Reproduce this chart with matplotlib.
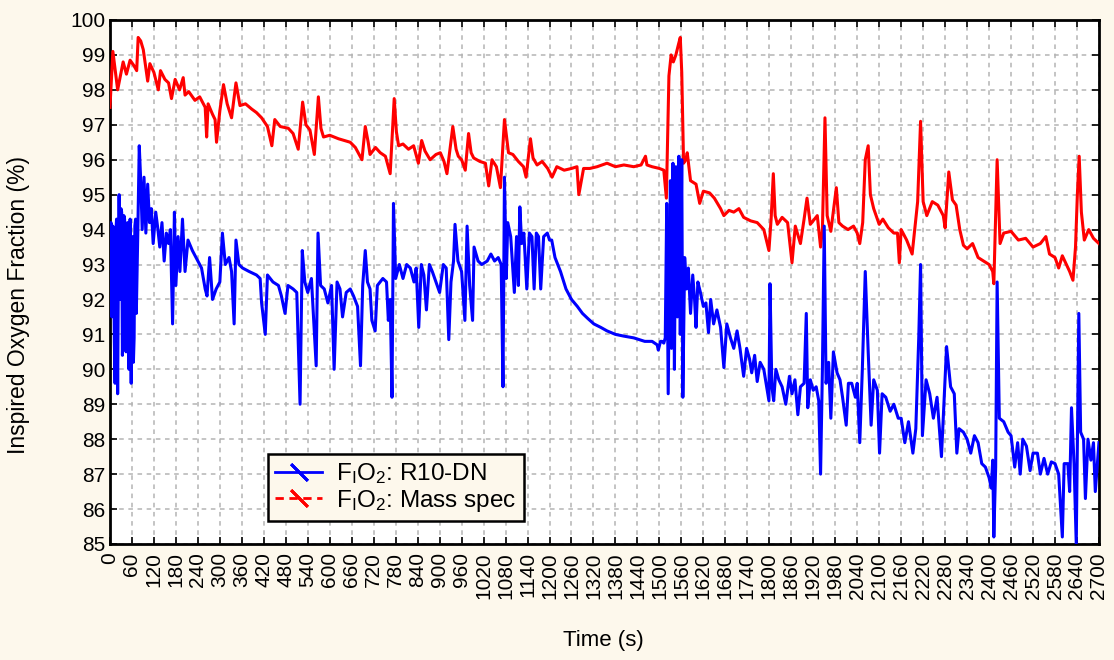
import matplotlib
matplotlib.use("Agg")
import matplotlib.pyplot as plt
from matplotlib.lines import Line2D

# Mass spec F_IO2 (red) - time (s), value (%)
massTime = [0, 8, 21, 36, 45, 55, 65, 73, 77, 84, 91, 103, 109, 120, 132, 138, 150, 160, 168, 178,
            190, 200, 205, 215, 232, 245, 260, 264, 268, 280, 287, 291, 300, 310, 320, 332, 344, 355, 370, 387,
            400, 414, 430, 442, 450, 465, 487, 500, 514, 526, 535, 546, 558, 569, 576, 583, 600, 624, 640, 656,
            670, 688, 697, 705, 710, 725, 738, 752, 765, 776, 782, 788, 800, 815, 829, 842, 851, 860, 874, 890,
            902, 912, 920, 936, 945, 951, 960, 970, 979, 986, 993, 1010, 1025, 1034, 1043, 1055, 1066, 1077, 1088, 1100,
            1115, 1129, 1136, 1148, 1155, 1166, 1180, 1195, 1207, 1220, 1240, 1260, 1275, 1280, 1293, 1310, 1330, 1357, 1380, 1403,
            1430, 1450, 1462, 1466, 1480, 1500, 1512, 1519, 1526, 1532, 1538, 1545, 1552, 1557, 1561, 1566, 1572, 1576, 1585, 1600,
            1610, 1620, 1637, 1650, 1667, 1676, 1690, 1703, 1717, 1730, 1749, 1767, 1785, 1799, 1805, 1811, 1816, 1822, 1835, 1850,
            1862, 1871, 1885, 1895, 1903, 1912, 1931, 1940, 1945, 1952, 1958, 1968, 1983, 1990, 2000, 2015, 2030, 2040, 2047, 2055,
            2062, 2070, 2076, 2085, 2100, 2110, 2125, 2140, 2150, 2155, 2160, 2175, 2190, 2205, 2213, 2220, 2230, 2245, 2260, 2275,
            2280, 2290, 2300, 2310, 2320, 2330, 2340, 2355, 2370, 2385, 2400, 2410, 2413, 2422, 2430, 2440, 2460, 2480, 2500, 2520,
            2540, 2555, 2565, 2580, 2590, 2600, 2620, 2629, 2636, 2641, 2646, 2652, 2660, 2672, 2685, 2700]
massVal = [97.5, 99.1, 98.0, 98.8, 98.45, 98.85, 98.7, 98.55, 99.5, 99.4, 99.15, 98.25, 98.75, 98.5, 98.0, 98.55, 98.3, 98.2, 97.75, 98.3,
           98.0, 98.35, 97.85, 97.95, 97.7, 97.8, 97.5, 96.65, 97.6, 97.3, 97.15, 96.5, 97.4, 98.15, 97.6, 97.2, 98.2, 97.55, 97.6, 97.45,
           97.35, 97.2, 96.95, 96.4, 97.15, 96.95, 96.9, 96.75, 96.3, 97.65, 97.0, 96.85, 96.15, 97.8, 96.9, 96.65, 96.7, 96.6, 96.55, 96.5,
           96.35, 96.0, 96.95, 96.5, 96.15, 96.35, 96.2, 96.1, 95.6, 97.75, 96.8, 96.4, 96.45, 96.3, 96.4, 95.9, 96.55, 96.25, 96.0, 96.15,
           96.2, 95.95, 95.6, 96.95, 96.3, 96.1, 96.0, 95.7, 96.75, 96.2, 96.05, 95.95, 95.9, 95.25, 96.0, 95.8, 95.2, 97.15, 96.2, 96.15,
           95.95, 95.8, 95.5, 96.6, 96.05, 95.85, 95.95, 95.75, 95.5, 95.8, 95.7, 95.75, 95.8, 95.0, 95.75, 95.75, 95.8, 95.9, 95.8, 95.85,
           95.8, 95.85, 96.1, 95.85, 95.8, 95.75, 95.7, 94.9, 98.4, 99.0, 98.8, 99.0, 99.3, 99.5, 98.5, 95.9, 96.0, 96.2, 95.4, 95.3,
           94.75, 95.1, 95.05, 94.9, 94.6, 94.4, 94.55, 94.5, 94.6, 94.35, 94.25, 94.2, 94.0, 93.4, 94.3, 95.6, 94.4, 94.15, 94.35, 94.2,
           93.05, 94.1, 93.6, 94.3, 94.9, 94.15, 94.4, 93.5, 94.0, 97.2, 94.4, 93.95, 95.2, 94.2, 94.1, 94.0, 94.1, 93.9, 93.6, 94.2,
           96.0, 96.4, 95.0, 94.6, 94.15, 94.3, 94.05, 93.9, 93.9, 93.05, 94.0, 93.7, 93.3, 94.8, 97.1, 94.8, 94.4, 94.8, 94.7, 94.4,
           94.05, 95.65, 94.85, 94.7, 94.0, 93.55, 93.45, 93.6, 93.2, 93.1, 93.0, 92.8, 92.45, 96.0, 93.6, 93.9, 93.95, 93.7, 93.75, 93.5,
           93.6, 93.8, 93.3, 93.2, 92.9, 93.25, 92.8, 92.55, 93.5, 95.0, 96.1, 94.5, 93.7, 94.0, 93.75, 93.6]

# R10-DN F_IO2 (blue)
r10Time = [0, 3, 5, 8, 10, 12, 14, 16, 18, 21, 23, 25, 28, 30, 32, 34, 36, 38, 40, 42,
           44, 46, 48, 50, 52, 55, 58, 60, 62, 64, 66, 68, 70, 72,
           76, 80, 84, 88, 93, 98, 103, 108, 113, 118, 125, 131, 136, 142, 148, 154, 160, 165, 171, 176,
           180, 186, 191, 198, 205, 213, 225, 240, 250, 260, 265, 272, 280, 290, 300, 307, 315, 325, 332, 339,
           344, 352, 362, 380, 400, 410, 414, 424, 430, 445, 460, 468, 478, 486, 500, 510, 519, 525, 532, 540,
           550, 563, 568, 575, 585, 595, 605, 612, 620, 628, 635, 645, 656, 665, 676, 684, 690, 697, 703, 710,
           715, 724, 730, 745, 755, 760, 765, 770, 774, 780, 790, 800, 810, 820, 830, 836, 843, 850, 857, 864,
           872, 880, 890, 900, 910, 918, 925, 931, 938, 942, 950, 960, 969, 975, 982, 990, 994, 1005, 1015, 1030,
           1040, 1050, 1060, 1068, 1073, 1077, 1082, 1086, 1094, 1104, 1110, 1115, 1119, 1124, 1130, 1138, 1145, 1152, 1158, 1164,
           1170, 1176, 1184, 1194, 1200, 1206, 1215, 1230, 1245, 1260, 1276, 1290, 1305, 1321, 1340, 1357, 1380, 1403, 1430, 1460,
           1480, 1494, 1497, 1503, 1507, 1512, 1516, 1520, 1524, 1530, 1533, 1537, 1541, 1545, 1549, 1553, 1557, 1561, 1564, 1569,
           1574, 1579, 1585, 1591, 1596, 1600, 1605, 1612, 1620, 1627, 1634, 1640, 1648, 1657, 1667, 1676, 1684, 1694, 1703, 1712,
           1720, 1730, 1738, 1746, 1752, 1760, 1767, 1775, 1785, 1799, 1802, 1807, 1812, 1818, 1826, 1835, 1845, 1855, 1862, 1870,
           1878, 1885, 1895, 1901, 1905, 1912, 1920, 1928, 1935, 1940, 1945, 1950, 1955, 1962, 1968, 1975, 1985, 1993, 2000, 2010,
           2016, 2025, 2035, 2040, 2047, 2054, 2062, 2070, 2078, 2085, 2095, 2101, 2108, 2118, 2130, 2140, 2152, 2160, 2170, 2180,
           2192, 2200, 2208, 2213, 2218, 2228, 2238, 2248, 2258, 2270, 2284, 2295, 2305, 2312, 2318, 2330, 2340, 2350, 2360, 2370,
           2380, 2390, 2400, 2406, 2410, 2413, 2418, 2422, 2428, 2440, 2452, 2460, 2470, 2478, 2485, 2492, 2502, 2512, 2520, 2532,
           2540, 2550, 2560, 2570, 2580, 2590, 2600, 2605, 2615, 2620, 2625, 2632, 2638, 2645, 2650, 2658, 2663, 2670, 2678, 2685,
           2690, 2700]
r10Val = [94.0, 94.2, 91.5, 94.1, 93.5, 90.8, 89.6, 93.9, 94.3, 89.3, 92.8, 95.0, 92.0, 94.6, 94.5, 90.4, 91.2, 94.4, 94.3, 91.0,
          90.5, 94.0, 94.2, 91.5, 90.0, 94.3, 89.6, 93.5, 93.8, 90.2, 90.9, 94.1, 94.3, 91.6,
          93.9, 96.4, 95.4, 94.0, 95.5, 93.9, 95.3, 94.2, 94.6, 93.6, 94.5, 94.0, 93.5, 94.2, 93.1, 93.9, 93.6, 94.0, 91.3, 94.5,
          92.4, 93.8, 92.8, 94.3, 92.8, 93.7, 93.4, 93.1, 92.9, 92.3, 92.1, 93.2, 92.0, 92.3, 92.5, 93.9, 93.0, 93.2, 92.8, 91.3,
          93.7, 93.0, 92.9, 92.8, 92.7, 92.6, 91.9, 91.0, 92.7, 92.5, 92.4, 92.1, 91.6, 92.4, 92.3, 92.2, 89.0, 93.4, 92.5, 92.2,
          92.6, 90.1, 93.9, 92.4, 92.3, 91.9, 92.4, 90.0, 92.5, 92.3, 91.5, 92.2, 92.3, 92.1, 91.8, 90.1, 92.4, 93.4, 92.5, 92.3,
          91.4, 91.1, 92.4, 92.6, 92.5, 91.4, 92.0, 89.2, 94.75, 92.6, 93.0, 92.6, 93.0, 92.9, 92.5, 92.9, 91.2, 93.0, 92.7, 91.7,
          93.0, 92.8, 92.5, 92.2, 93.0, 92.9, 90.85, 92.5, 93.1, 94.15, 93.1, 92.8, 91.4, 94.1, 92.4, 91.4, 93.5, 93.1, 93.0, 93.1,
          93.3, 93.1, 93.2, 93.0, 89.5, 95.5, 92.6, 94.2, 93.8, 92.2, 93.8, 92.4, 94.65, 93.6, 93.9, 92.3, 93.9, 93.8, 92.3, 93.9,
          93.8, 92.3, 93.8, 93.9, 93.7, 93.7, 93.2, 92.8, 92.3, 92.0, 91.8, 91.6, 91.45, 91.3, 91.2, 91.1, 91.0, 90.95, 90.9, 90.8,
          90.8, 90.7, 90.55, 90.8, 90.8, 90.75, 90.9, 94.75, 89.3, 95.4, 90.6, 95.9, 90.0, 95.8, 91.5, 96.1, 91.0, 96.0, 89.2, 93.2,
          92.3, 92.9, 91.6, 92.7, 92.0, 91.2, 92.5, 92.2, 91.8, 91.9, 91.05, 92.0, 91.3, 91.7, 91.2, 90.05, 91.3, 90.9, 90.6, 91.1,
          90.6, 89.8, 90.6, 90.3, 89.9, 90.4, 89.65, 90.2, 90.0, 89.1, 92.45, 89.5, 89.1, 90.0, 89.7, 89.5, 89.0, 89.8, 89.3, 89.7,
          88.7, 89.5, 89.6, 91.6, 88.9, 89.7, 89.4, 89.5, 89.1, 87.0, 90.0, 94.1, 89.6, 90.2, 88.6, 90.5, 89.9, 89.7, 89.2, 88.4,
          89.6, 89.6, 89.2, 89.6, 87.9, 90.0, 92.8, 90.5, 88.4, 89.7, 89.4, 87.6, 89.3, 89.2, 88.8, 89.0, 88.6, 88.6, 87.9, 88.5,
          87.6, 88.3, 90.9, 93.0, 88.1, 89.7, 89.3, 88.6, 89.2, 87.5, 90.65, 89.5, 89.3, 87.6, 88.3, 88.2, 88.0, 87.6, 88.1, 87.9,
          87.3, 87.2, 86.9, 86.6, 87.4, 85.2, 87.2, 92.5, 88.6, 88.5, 88.2, 88.1, 87.2, 87.9, 87.0, 88.0, 87.8, 87.1, 87.6, 87.6,
          87.0, 87.45, 87.0, 87.35, 87.3, 87.0, 85.2, 87.3, 87.3, 86.5, 88.9, 87.3, 85.0, 91.6, 88.2, 88.0, 86.3, 88.0, 87.4, 87.9,
          86.5, 87.9]

xTicks = list(range(0, 2701, 60))
yTicks = list(range(85, 101, 1))

bgColor = "#fdf8ec"

plt.rcParams['font.family'] = ['Liberation Sans', 'DejaVu Sans']
plt.rcParams['mathtext.fontset'] = 'custom'
plt.rcParams['mathtext.rm'] = 'Liberation Sans'
plt.rcParams['mathtext.it'] = 'Liberation Sans'

fig = plt.figure(figsize=(11.14, 6.6), dpi=100, facecolor=bgColor)
ax = fig.add_axes([0.0987, 0.1758, 0.8878, 0.7939])
ax.set_facecolor("white")

ax.plot(massTime, massVal, color="#ff0000", lw=2.2, zorder=3)
ax.plot(r10Time, r10Val, color="#0000ff", lw=2.2, zorder=4)

ax.set_xlim(0, 2700)
ax.set_ylim(85, 100)
ax.set_xticks(xTicks)
ax.set_xticklabels([str(t) for t in xTicks], rotation=90)
ax.set_yticks(yTicks)
ax.tick_params(direction="in", length=5, width=1.2, top=True, right=True,
               labelsize=15, colors="black")
ax.tick_params(axis="x", pad=6)
ax.grid(True, color="#b4b4b4", linestyle=(0, (3, 3)), lw=1.1)
ax.set_axisbelow(True)
for s in ax.spines.values():
    s.set_linewidth(2)
    s.set_color("black")

ax.set_xlabel("Time (s)", fontsize=16)
ax.xaxis.set_label_coords(0.499, -0.164)
ax.set_ylabel("Inspired Oxygen Fraction (%)", fontsize=16.5)
ax.yaxis.set_label_coords(-0.081, 0.456)

handles = [
    Line2D([], [], color="#0000ff", lw=2, marker=(2, 2, 45), markersize=17, markeredgewidth=2),
    Line2D([], [], color="#ff0000", lw=2, ls=(0, (3, 2)), marker=(2, 2, 45), markersize=17, markeredgewidth=2),
]
labels = [r"F$_{\mathrm{I}}$O$_{2}$: R10-DN", r"F$_{\mathrm{I}}$O$_{2}$: Mass spec"]
leg = ax.legend(handles, labels, loc="lower left", bbox_to_anchor=(0.16, 0.044),
                borderaxespad=0, fontsize=17.5, fancybox=False, framealpha=1,
                facecolor=bgColor, edgecolor="black", handlelength=1.9,
                handletextpad=0.6, numpoints=1, labelspacing=0.05, borderpad=0.3)
leg.get_frame().set_linewidth(1.8)

fig.savefig("out.png", dpi=100, facecolor=bgColor)
